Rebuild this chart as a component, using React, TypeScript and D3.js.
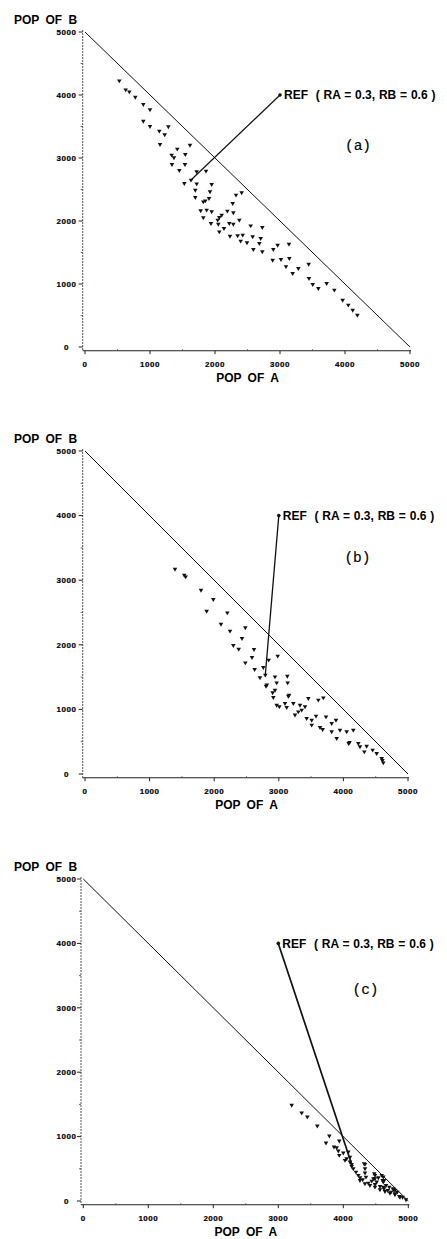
import React from 'react';
import * as d3 from 'd3';

// axis ticks shared by all three panels
const tickValues = [0, 1000, 2000, 3000, 4000, 5000];
const tickLabels = ['0', '1000', '2000', '3000', '4000', '5000'];
const minorTicks = [500, 1500, 2500, 3500, 4500];
const refPoint: [number, number] = [3000, 4000];
const refLabel = 'REF  ( RA = 0.3, RB = 0.6 )';
const panelTags = ['(a)', '(b)', '(c)'];

// (POP OF A, POP OF B)
const pointsA: [number, number][] = [
  [528, 4227], [626, 4084], [682, 4052], [774, 3968], [897, 3852], [1000, 3767], [897, 3587], [1000, 3503],
  [1143, 3429], [1226, 3370], [1282, 3497], [1154, 3217], [1420, 3143], [1615, 3206], [1543, 3058], [1333, 3048],
  [1369, 3005], [1338, 2900], [1538, 2900], [1451, 2805], [1718, 2783], [1862, 2794], [1631, 2651], [1528, 2598],
  [1718, 2592], [1949, 2582], [1697, 2492], [1923, 2466], [2410, 2450], [2323, 2413], [1697, 2376], [1908, 2360],
  [1820, 2306], [1851, 2322], [2272, 2281], [1779, 2164], [1872, 2175], [1949, 2148], [2190, 2159], [2282, 2132],
  [2103, 2095], [2066, 2059], [1820, 2053], [2041, 2016], [1938, 1963], [2220, 1963], [2282, 1952], [2374, 2016],
  [2051, 1952], [2138, 1884], [2066, 1830], [2549, 1925], [2728, 1900], [2231, 1762], [2349, 1767], [2426, 1778],
  [2395, 1683], [2492, 1656], [2579, 1751], [2703, 1725], [2682, 1646], [2590, 1551], [2728, 1513], [2964, 1619],
  [3138, 1635], [2897, 1551], [2887, 1381], [3015, 1392], [3143, 1408], [3092, 1278], [3195, 1170], [3282, 1249],
  [3441, 1317], [3446, 1090], [3503, 995], [3590, 932], [3718, 1011], [3836, 905], [3964, 746], [4051, 667],
  [4118, 587], [4190, 508],
];

const pointsB: [number, number][] = [
  [1393, 3173], [1537, 3080], [1559, 3054], [1796, 2848], [1986, 2704], [1884, 2523], [2203, 2497], [2105, 2322],
  [2245, 2214], [2482, 2265], [2430, 2100], [2296, 1992], [2379, 1935], [2616, 1930], [2585, 1806], [2482, 1723],
  [2626, 1621], [2760, 1652], [2843, 1765], [2983, 1827], [2709, 1491], [2791, 1533], [2802, 1362], [2815, 1380],
  [2941, 1506], [3132, 1517], [2967, 1413], [3137, 1413], [2941, 1300], [2905, 1259], [2915, 1187], [3147, 1207],
  [3160, 1220], [2967, 1068], [3008, 1042], [3096, 1094], [3122, 1032], [3225, 1094], [3328, 1068], [3457, 1172],
  [3612, 1146], [3689, 1181], [3251, 916], [3302, 964], [3354, 991], [3406, 1042], [3431, 862], [3509, 836],
  [3576, 898], [3731, 887], [3509, 759], [3638, 723], [3679, 692], [3818, 785], [3885, 836], [3818, 655],
  [3947, 681], [4051, 655], [4153, 681], [3896, 553], [4081, 475], [4095, 490], [4231, 475], [4360, 433],
  [4257, 423], [4324, 345], [4453, 372], [4515, 320], [4593, 243], [4618, 175], [4605, 210],
];

const pointsC: [number, number][] = [
  [3206, 1488], [3360, 1369], [3446, 1306], [3600, 1166], [3785, 1011], [3734, 902], [3938, 933], [3857, 840],
  [3898, 830], [3923, 778], [4000, 747], [3938, 711], [4026, 633], [4051, 659], [4077, 762], [4103, 684],
  [4103, 607], [4129, 571], [4129, 540], [4154, 504], [4195, 451], [4231, 400], [4257, 364], [4298, 333],
  [4334, 571], [4334, 504], [4334, 436], [4349, 373], [4385, 280], [4437, 311], [4462, 348], [4488, 400],
  [4488, 260], [4514, 296], [4539, 364], [4565, 229], [4591, 400], [4606, 320], [4626, 193], [4626, 322],
  [4657, 244], [4683, 166], [4708, 218], [4734, 140], [4769, 177], [4795, 166], [4795, 115], [4831, 140],
  [4862, 73], [4913, 62], [4964, 22], [4256, 322], [4333, 270], [4410, 244], [4487, 218], [4564, 176],
  [4641, 150], [4718, 124], [4795, 98], [4872, 62], [4320, 581], [4477, 426], [4487, 348], [4615, 374],
  [4615, 296], [4615, 218], [4769, 192],
];

// where each trajectory ends (the REF line is drawn to it)
const refEnds: [number, number][] = [[1631, 2651], [2791, 1533], [4129, 571]];
// where the (a)/(b)/(c) tag sits, in data units
const tagSpots: [number, number][] = [[4200, 3206], [4218, 3364], [4342, 3292]];

const frames = [
  { x0: 85, x1: 410, y0: 347, y1: 32, refWidth: 1.2 },
  { x0: 85, x1: 408, y0: 774, y1: 451, refWidth: 1.3 },
  { x0: 83.3, x1: 408.3, y0: 1201, y1: 879, refWidth: 1.7 },
];

const boldSans = '"Liberation Sans", Arial, Helvetica, sans-serif';

function Panel({ frame, points, refEnd, tag, tagSpot }: any) {
  const x = d3.scaleLinear().domain([0, 5000]).range([frame.x0, frame.x1]);
  const y = d3.scaleLinear().domain([0, 5000]).range([frame.y0, frame.y1]);
  const tri = d3.symbol().type(d3.symbolTriangle).size(9)() as string;

  const axisX = x(0) - 2.3; // vertical axis sits a bit left of A = 0
  const axisY = y(0) + 3.7; // horizontal axis a bit below B = 0
  const yLabelX = 66.5;

  return (
    <g>
      {/* vertical axis, drawn dotted like the print */}
      <line x1={axisX} x2={axisX} y1={y(5000) - 2} y2={axisY} stroke="#555" strokeWidth={1} strokeDasharray="2,1" />
      {tickValues.map((t, i) => (
        <g key={'y' + t}>
          <line x1={axisX - 4} x2={axisX} y1={y(t)} y2={y(t)} stroke="#222" strokeWidth={1} />
          <text x={yLabelX} y={y(t)} dy="0.35em" textAnchor="middle" fontFamily={boldSans} fontWeight="bold"
            fontSize={8} letterSpacing={0.5} stroke="#000" strokeWidth={0.2}>{tickLabels[i]}</text>
        </g>
      ))}
      {minorTicks.map((t) => (
        <line key={'ym' + t} x1={axisX - 2} x2={axisX} y1={y(t)} y2={y(t)} stroke="#444" strokeWidth={0.8} />
      ))}

      {/* horizontal axis */}
      <line x1={axisX} x2={x(5000) + 1} y1={axisY} y2={axisY} stroke="#222" strokeWidth={1.1} />
      {tickValues.map((t, i) => (
        <g key={'x' + t}>
          <line x1={x(t)} x2={x(t)} y1={axisY} y2={axisY + 3.5} stroke="#222" strokeWidth={1} />
          <text x={x(t)} y={y(0) + 17} dy="0.35em" textAnchor="middle" fontFamily={boldSans} fontWeight="bold"
            fontSize={8} letterSpacing={0.5} stroke="#000" strokeWidth={0.2}>{tickLabels[i]}</text>
        </g>
      ))}
      {minorTicks.map((t) => (
        <line key={'xm' + t} x1={x(t)} x2={x(t)} y1={axisY - 1.5} y2={axisY} stroke="#444" strokeWidth={0.8} />
      ))}

      <text x={14} y={y(5000) - 12} dy="0.35em" fontFamily={boldSans} fontWeight="bold" fontSize={12}
        wordSpacing={3}>POP OF B</text>
      <text x={(frame.x0 + frame.x1) / 2} y={y(0) + 31} dy="0.35em" textAnchor="middle" fontFamily={boldSans}
        fontWeight="bold" fontSize={12} wordSpacing={3}>POP OF A</text>

      {/* A + B = 5000 */}
      <line x1={x(0)} y1={y(5000)} x2={x(5000)} y2={y(0)} stroke="#111" strokeWidth={1} />

      {points.map((p: [number, number], i: number) => (
        <path key={i} d={tri} transform={`translate(${x(p[0])},${y(p[1])}) rotate(180)`} fill="#111" />
      ))}

      {/* reference trajectory marker */}
      <line x1={x(refPoint[0])} y1={y(refPoint[1])} x2={x(refEnd[0])} y2={y(refEnd[1])} stroke="#111"
        strokeWidth={frame.refWidth} />
      <circle cx={x(refPoint[0])} cy={y(refPoint[1])} r={1.8} fill="#111" />
      <text x={x(refPoint[0]) + 4} y={y(refPoint[1])} dy="0.35em" fontFamily={boldSans} fontWeight="bold"
        fontSize={12} wordSpacing={0.5} style={{ whiteSpace: 'pre' }}>{refLabel}</text>

      <text x={x(tagSpot[0])} y={y(tagSpot[1])} dy="0.35em" textAnchor="middle"
        fontFamily='"Liberation Mono", "Courier New", monospace' fontSize={14.5} stroke="#000"
        strokeWidth={0.15}>{tag}</text>
    </g>
  );
}

export default function App() {
  const sets = [pointsA, pointsB, pointsC];
  return (
    <svg width={447} height={1239} style={{ position: 'absolute', left: 0, top: 0, background: '#fff' }}>
      <rect width={447} height={1239} fill="#fff" />
      {frames.map((f, i) => (
        <Panel key={i} frame={f} points={sets[i]} refEnd={refEnds[i]} tag={panelTags[i]} tagSpot={tagSpots[i]} />
      ))}
    </svg>
  );
}
